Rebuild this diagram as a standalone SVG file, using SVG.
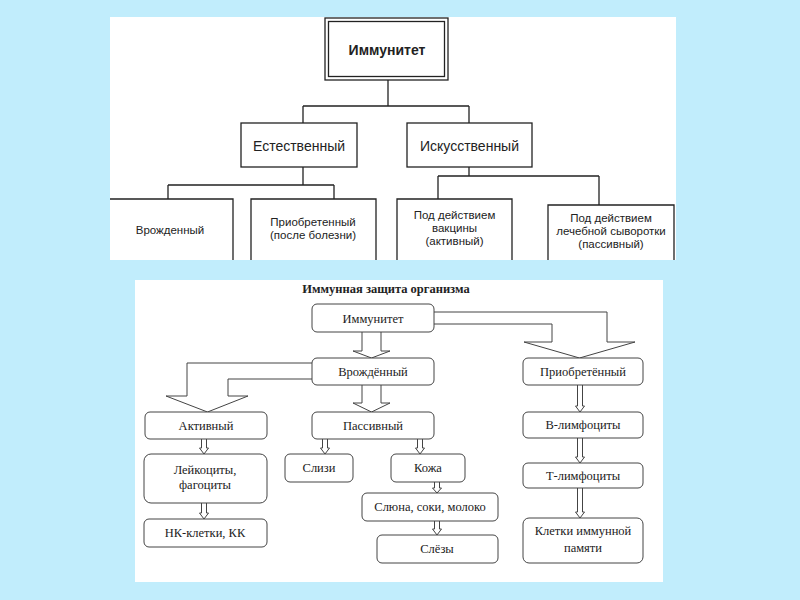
<svg xmlns="http://www.w3.org/2000/svg" width="800" height="600" viewBox="0 0 800 600">
<style>
.bg{fill:#c1edfc}
.panel{fill:#ffffff}
.tl{fill:none;stroke:#222;stroke-width:1.3}
.tb{fill:#fff;stroke:#222;stroke-width:1.3}
.ts{font-family:"Liberation Sans",Arial,sans-serif;fill:#222;text-anchor:middle}
.rb{fill:#fff;stroke:#444;stroke-width:1}
.ar{fill:#fff;stroke:#444;stroke-width:1}
.sf{font-family:"Liberation Serif","Times New Roman",serif;fill:#222;font-size:12.5px;text-anchor:middle}
</style>
<rect class="bg" x="0" y="0" width="800" height="600"/>
<rect class="panel" x="110" y="17" width="566" height="243"/>
<rect class="panel" x="135" y="280" width="528" height="302"/>

<g id="top-connectors">
<path class="tl" d="M388,80 V106 M303,106 H469 M303,106 V123 M469,106 V123"/>
<path class="tl" d="M303,167 V185 M168,185 H334 M168,185 V199 M334,185 V199"/>
<path class="tl" d="M469,167 V176 M438,176 H599 M438,176 V199 M599,176 V205"/>
</g>

<g id="t-immunitet">
<rect class="tb" x="325" y="18" width="123" height="62"/>
<rect class="tl" x="328.5" y="21.5" width="116" height="55"/>
<text class="ts" x="387" y="55" font-size="14" font-weight="bold">Иммунитет</text>
</g>
<g id="t-estestv">
<rect class="tb" x="241" y="123" width="116" height="44"/>
<text class="ts" x="299" y="151" font-size="14">Естественный</text>
</g>
<g id="t-iskusstv">
<rect class="tb" x="407" y="123" width="125" height="44"/>
<text class="ts" x="469.5" y="151" font-size="14">Искусственный</text>
</g>
<g id="t-vrozhd">
<path class="tl" d="M110,199 H233 V260"/>
<text class="ts" x="170" y="234" font-size="11.5">Врожденный</text>
</g>
<g id="t-priobr">
<path class="tl" d="M251,260 V199 H376 V260"/>
<text class="ts" x="313" y="226" font-size="11.5">Приобретенный</text>
<text class="ts" x="313" y="239" font-size="11.5">(после болезни)</text>
</g>
<g id="t-vakcina">
<path class="tl" d="M397,260 V199 H512 V260"/>
<text class="ts" x="454.5" y="219" font-size="11.5">Под действием</text>
<text class="ts" x="454.5" y="232" font-size="11.5">вакцины</text>
<text class="ts" x="454.5" y="245" font-size="11.5">(активный)</text>
</g>
<g id="t-syvorotka">
<path class="tl" d="M548,260 V205 H674 V260"/>
<text class="ts" x="611" y="222" font-size="11.5">Под действием</text>
<text class="ts" x="611" y="235" font-size="11.5">лечебной сыворотки</text>
<text class="ts" x="611" y="248" font-size="11.5">(пассивный)</text>
</g>

<text class="sf" x="386" y="293" font-weight="bold">Иммунная защита организма</text>

<g id="bottom-connectors">
<path class="ar" d="M362,332 V351 H353 L371.5,358 L390,351 H381 V332"/>
<path class="ar" d="M362,385 V403 H353 L371.5,412 L390,403 H381 V385"/>
<path class="ar" d="M312,363 H187 V396 H166 L207.5,412 L248,396 H228 V379 H312"/>
<path class="ar" d="M434,312 H607 V342 H635 L579.5,358 L524,342 H552 V324 H434"/>
<path class="ar" d="M201.5,439 V448 H199.5 L204,454 L208.5,448 H206.5 V439"/>
<path class="ar" d="M201.5,503 V513 H199.5 L204,519 L208.5,513 H206.5 V503"/>
<path class="ar" d="M322.5,439 V448 H320.5 L325,454 L329.5,448 H327.5 V439"/>
<path class="ar" d="M417.5,439 V448 H415.5 L420,454 L424.5,448 H422.5 V439"/>
<path class="ar" d="M434.5,482 V488 H432.5 L437,493 L441.5,488 H439.5 V482"/>
<path class="ar" d="M434.5,521 V529 H432.5 L437,535 L441.5,529 H439.5 V521"/>
<path class="ar" d="M577.5,385 V406 H575.5 L580,412 L584.5,406 H582.5 V385"/>
<path class="ar" d="M577.5,438 V457 H575.5 L580,463 L584.5,457 H582.5 V438"/>
<path class="ar" d="M577.5,488 V512 H575.5 L580,518 L584.5,512 H582.5 V488"/>
</g>

<g id="b-immunitet"><rect class="rb" x="312" y="304" width="122" height="28" rx="5"/><text class="sf" x="373" y="323">Иммунитет</text></g>
<g id="b-vrozhd"><rect class="rb" x="312" y="358" width="122" height="27" rx="5"/><text class="sf" x="373" y="376">Врождённый</text></g>
<g id="b-passiv"><rect class="rb" x="312" y="412" width="122" height="27" rx="5"/><text class="sf" x="373" y="430">Пассивный</text></g>
<g id="b-aktiv"><rect class="rb" x="145" y="412" width="122" height="27" rx="5"/><text class="sf" x="206" y="430">Активный</text></g>
<g id="b-priobr"><rect class="rb" x="523" y="358" width="120" height="27" rx="5"/><text class="sf" x="583" y="376">Приобретённый</text></g>
<g id="b-blimf"><rect class="rb" x="523" y="412" width="120" height="26" rx="5"/><text class="sf" x="583" y="429">В-лимфоциты</text></g>
<g id="b-tlimf"><rect class="rb" x="523" y="463" width="120" height="25" rx="5"/><text class="sf" x="583" y="480">Т-лимфоциты</text></g>
<g id="b-pamyat"><rect class="rb" x="523" y="518" width="120" height="45" rx="6"/><text class="sf" x="583" y="535">Клетки иммунной</text><text class="sf" x="583" y="552">памяти</text></g>
<g id="b-leyk"><rect class="rb" x="144" y="454" width="123" height="49" rx="7"/><text class="sf" x="205" y="474">Лейкоциты,</text><text class="sf" x="205" y="489">фагоциты</text></g>
<g id="b-nk"><rect class="rb" x="144" y="519" width="123" height="28" rx="5"/><text class="sf" x="205" y="537">НК-клетки, КК</text></g>
<g id="b-slizi"><rect class="rb" x="285" y="454" width="68" height="28" rx="5"/><text class="sf" x="319" y="472">Слизи</text></g>
<g id="b-kozha"><rect class="rb" x="391" y="454" width="74" height="28" rx="5"/><text class="sf" x="428" y="472">Кожа</text></g>
<g id="b-slyuna"><rect class="rb" x="362" y="493" width="136" height="28" rx="5"/><text class="sf" x="430" y="511">Слюна, соки, молоко</text></g>
<g id="b-slezy"><rect class="rb" x="377" y="535" width="121" height="28" rx="5"/><text class="sf" x="437" y="553">Слёзы</text></g>
</svg>
